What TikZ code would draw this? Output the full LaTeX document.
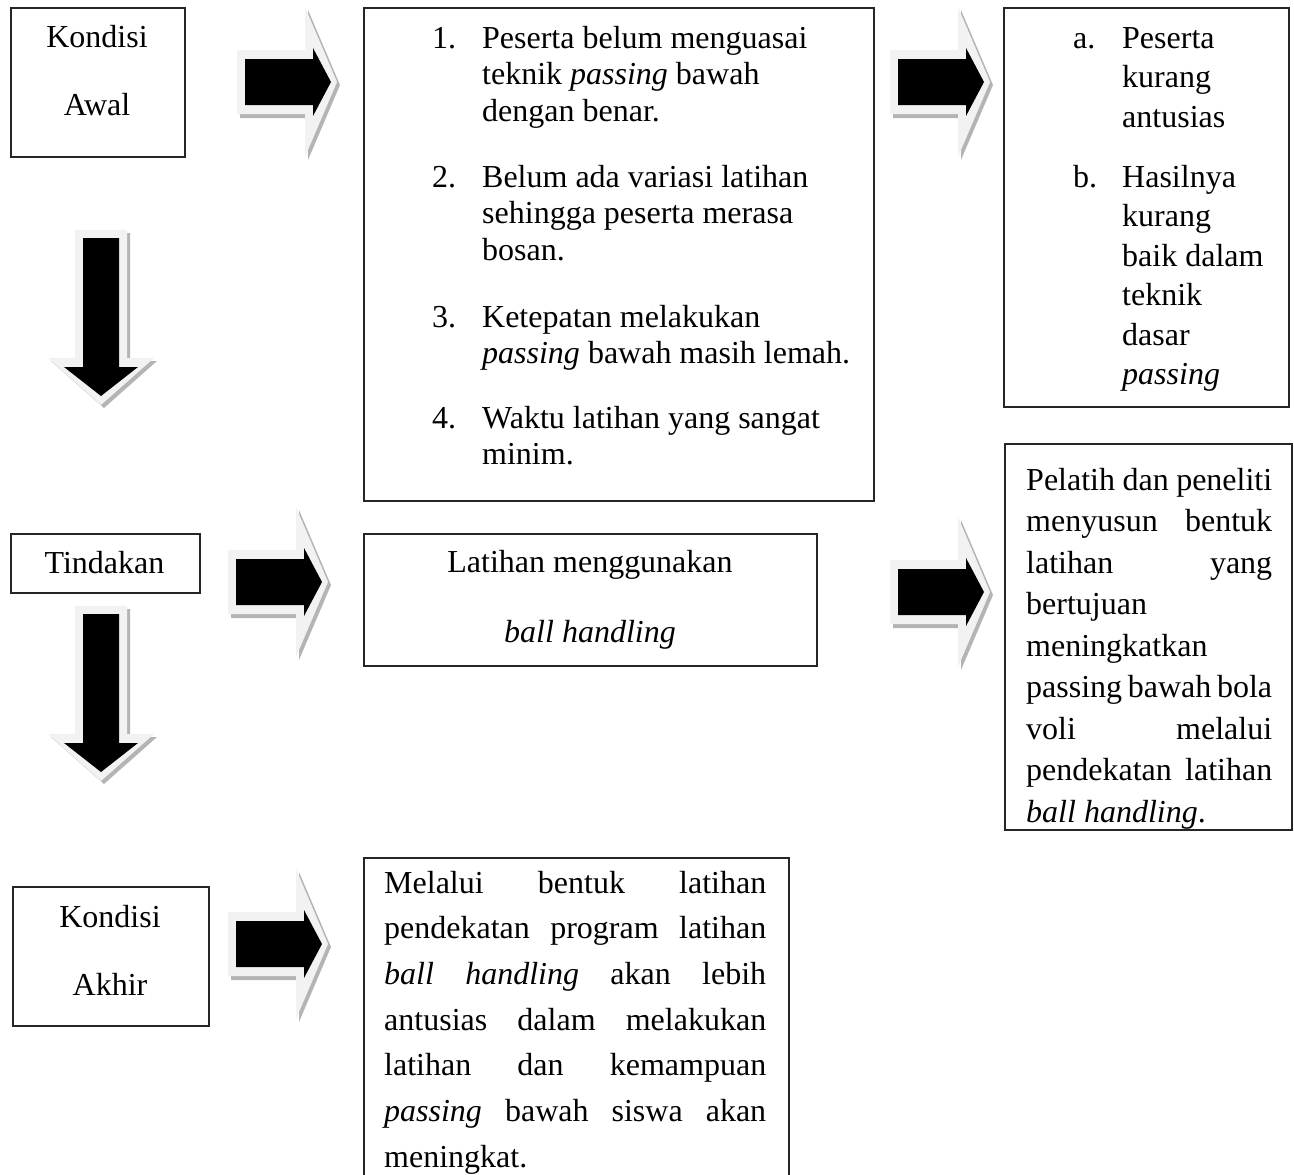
\documentclass[tikz,border=0pt]{standalone}
\usepackage{fontspec}
\setmainfont{Liberation Serif}
\definecolor{arrowpale}{HTML}{F2F2F2}
\definecolor{arrowshade}{HTML}{B4B4B4}
\tikzset{
  box/.style={draw=black!85, line width=1.5pt, anchor=north west, inner sep=0pt},
  txt/.style={inner sep=0pt, anchor=base west, font=\fontsize{32}{36}\selectfont},
  ctxt/.style={inner sep=0pt, anchor=base, font=\fontsize{32}{36}\selectfont},
  arrowbody/.style={fill=arrowpale, draw=none},
  arrowshadow/.style={fill=arrowshade, draw=none},
  arrowcore/.style={fill=black, draw=none}
}
\newcommand{\myrarrow}[2]{%
  \begin{scope}[shift={(#1,#2)}]
    \fill[arrowshadow] (3,-30) -- (71,-30) -- (71,-72) -- (103,3) -- (71,78) -- (71,36) -- (3,36) -- cycle;
    \fill[arrowbody] (0,-32) -- (68,-32) -- (68,-75) -- (100,0) -- (68,75) -- (68,32) -- (0,32) -- cycle;
    \fill[arrowcore] (8,-23) -- (76,-23) -- (76,-34) -- (94,0) -- (76,34) -- (76,23) -- (8,23) -- cycle;
  \end{scope}}
\newcommand{\mydarrow}[2]{%
  \begin{scope}[shift={(#1,#2)}]
    \fill[arrowshadow] (-23,3) -- (29,3) -- (29,131) -- (56,131) -- (3,178) -- (-50,131) -- (-23,131) -- cycle;
    \fill[arrowbody] (-26,0) -- (26,0) -- (26,128) -- (53,128) -- (0,175) -- (-53,128) -- (-26,128) -- cycle;
    \fill[arrowcore] (-18,8) -- (18,8) -- (18,137) -- (37,137) -- (0,166) -- (-37,137) -- (-18,137) -- cycle;
  \end{scope}}
\begin{document}
\begin{tikzpicture}[x=1pt,y=-1pt]
\useasboundingbox (0,0) rectangle (1294,1175);
\fill[white] (0,0) rectangle (1294,1175);

% arrows
\myrarrow{237}{82}
\myrarrow{890}{82}
\myrarrow{228}{582}
\myrarrow{890}{592}
\myrarrow{228}{944}
\mydarrow{101}{230}
\mydarrow{101}{606}

% boxes
\node[box, minimum width=174pt, minimum height=149pt] (awal) at (10,7) {};
\node[box, minimum width=510pt, minimum height=493pt] (masalah) at (363,7) {};
\node[box, minimum width=285pt, minimum height=399pt] (akibat) at (1003,7) {};
\node[box, minimum width=189pt, minimum height=59pt] (tindakan) at (10,533) {};
\node[box, minimum width=453pt, minimum height=132pt] (latihan) at (363,533) {};
\node[box, minimum width=287pt, minimum height=386pt] (pelatih) at (1004,443) {};
\node[box, minimum width=196pt, minimum height=139pt] (akhir) at (12,886) {};
\node[box, minimum width=425pt, minimum height=330pt] (hasil) at (363,857) {};

% Kondisi Awal
\node[ctxt] (awal1) at (97,47) {Kondisi};
\node[ctxt] (awal2) at (97,115) {Awal};

% list of problems
\node[txt] (m1a) at (432,48) {\makebox[50pt][l]{1.}Peserta belum menguasai};
\node[txt] (m1b) at (482,84.5) {teknik \textit{passing} bawah};
\node[txt] (m1c) at (482,121) {dengan benar.};
\node[txt] (m2a) at (432,187) {\makebox[50pt][l]{2.}Belum ada variasi latihan};
\node[txt] (m2b) at (482,223.5) {sehingga peserta merasa};
\node[txt] (m2c) at (482,260) {bosan.};
\node[txt] (m3a) at (432,327) {\makebox[50pt][l]{3.}Ketepatan melakukan};
\node[txt] (m3b) at (482,363.5) {\textit{passing} bawah masih lemah.};
\node[txt] (m4a) at (432,428) {\makebox[50pt][l]{4.}Waktu latihan yang sangat};
\node[txt] (m4b) at (482,464.5) {minim.};

% consequences
\node[txt] (a1) at (1073,48) {\makebox[49pt][l]{a.}Peserta};
\node[txt] (a2) at (1122,87.5) {kurang};
\node[txt] (a3) at (1122,127) {antusias};
\node[txt] (b1) at (1073,187) {\makebox[49pt][l]{b.}Hasilnya};
\node[txt] (b2) at (1122,226.5) {kurang};
\node[txt] (b3) at (1122,266) {baik dalam};
\node[txt] (b4) at (1122,305.5) {teknik};
\node[txt] (b5) at (1122,345) {dasar};
\node[txt] (b6) at (1122,384.5) {\textit{passing}};

% Tindakan
\node[ctxt] (tind) at (104.5,573) {Tindakan};
\node[ctxt] (lat1) at (590,572) {Latihan menggunakan};
\node[ctxt] (lat2) at (590,642) {\textit{ball handling}};

% Pelatih
\node[txt] (p1) at (1026,490) {\makebox[246pt][s]{Pelatih dan peneliti}};
\node[txt] (p2) at (1026,531.5) {\makebox[246pt][s]{menyusun bentuk}};
\node[txt] (p3) at (1026,573) {\makebox[246pt][s]{latihan yang}};
\node[txt] (p4) at (1026,614.5) {bertujuan};
\node[txt] (p5) at (1026,656) {meningkatkan};
\node[txt] (p6) at (1026,697.5) {\makebox[246pt][s]{passing bawah bola}};
\node[txt] (p7) at (1026,739) {\makebox[246pt][s]{voli melalui}};
\node[txt] (p8) at (1026,780.5) {\makebox[246pt][s]{pendekatan latihan}};
\node[txt] (p9) at (1026,822) {\textit{ball handling}.};

% Kondisi Akhir
\node[ctxt] (akhir1) at (110,927) {Kondisi};
\node[ctxt] (akhir2) at (110,995) {Akhir};

% hasil
\node[txt] (h1) at (384,893) {\makebox[382pt][s]{Melalui bentuk latihan}};
\node[txt] (h2) at (384,938.7) {\makebox[382pt][s]{pendekatan program latihan}};
\node[txt] (h3) at (384,984.4) {\makebox[382pt][s]{\textit{ball handling} akan lebih}};
\node[txt] (h4) at (384,1030) {\makebox[382pt][s]{antusias dalam melakukan}};
\node[txt] (h5) at (384,1075.8) {\makebox[382pt][s]{latihan dan kemampuan}};
\node[txt] (h6) at (384,1121.5) {\makebox[382pt][s]{\textit{passing} bawah siswa akan}};
\node[txt] (h7) at (384,1167) {meningkat.};
\end{tikzpicture}
\end{document}
